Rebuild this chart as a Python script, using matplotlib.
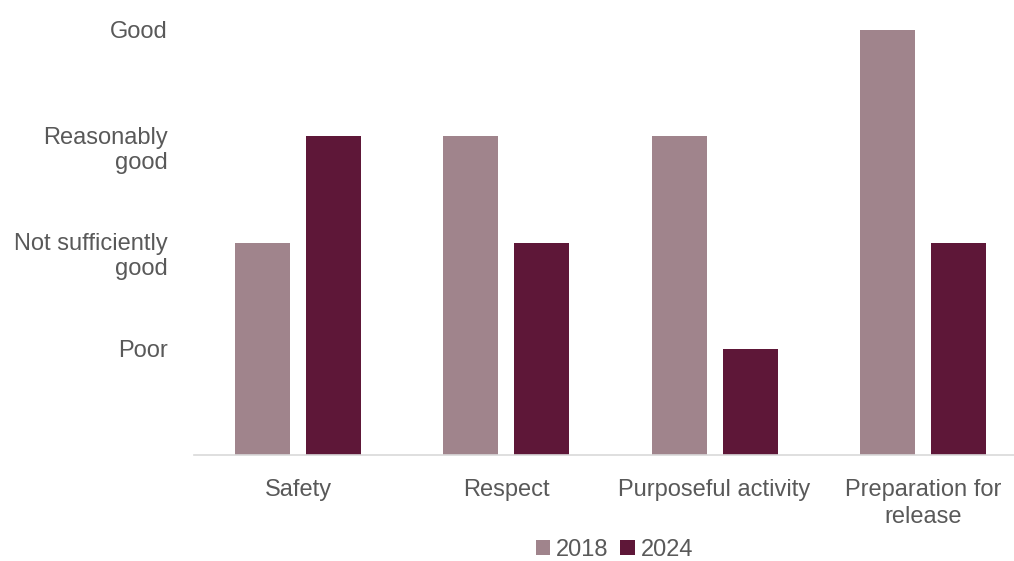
import matplotlib
matplotlib.use("Agg")
import matplotlib.pyplot as plt
import matplotlib.transforms as mtransforms
import numpy as np

categories = ["Safety", "Respect", "Purposeful activity", "Preparation for\nrelease"]
years = ["2018", "2024"]
vals_2018 = [2, 3, 3, 4]
vals_2024 = [3, 2, 1, 2]
levels = [1, 2, 3, 4]
level_labels = ["Poor", "Not sufficiently\ngood", "Reasonably\ngood", "Good"]

c2018 = "#A0848C"
c2024 = "#5E1738"
txt = "#595959"

plt.rcParams["font.family"] = ["Liberation Sans", "DejaVu Sans"]

fig = plt.figure(figsize=(10.14, 5.61), dpi=100)
# plot area runs a little past the right edge of the picture, as in the original
ax = fig.add_axes([194/1014, 1-455/561, 833/1014, (455-30)/561])

x = np.arange(len(categories))
w = 0.264
off = 0.171
ax.bar(x - off, vals_2018, w, color=c2018, label=years[0])
ax.bar(x + off, vals_2024, w, color=c2024, label=years[1])

ax.set_xlim(-0.5, len(categories) - 0.5)
ax.set_ylim(0, 4)
ax.set_xticks(x)
ax.set_xticklabels(categories, fontsize=17, color=txt, linespacing=1.3)
ax.set_yticks(levels)
ax.set_yticklabels(level_labels, fontsize=17, color=txt, linespacing=1.2)
ax.tick_params(axis="y", length=0, pad=19)
ax.tick_params(axis="x", length=0, pad=17)

# two-line labels sit a bit lower in the original
for lab in ax.get_yticklabels():
    if "\n" in lab.get_text():
        lab.set_transform(lab.get_transform() + mtransforms.ScaledTranslation(0, -0.1, fig.dpi_scale_trans))

for s in ["top", "right", "left"]:
    ax.spines[s].set_visible(False)
ax.spines["bottom"].set_color("#D9D9D9")
ax.spines["bottom"].set_linewidth(1.2)

leg = fig.legend(loc="lower center", bbox_to_anchor=(0.606, -0.038), ncol=2, frameon=False,
                 fontsize=17, handlelength=0.6, handleheight=0.6, handletextpad=0.25,
                 columnspacing=0.5)
for t in leg.get_texts():
    t.set_color(txt)

fig.savefig("out.png", dpi=100)
